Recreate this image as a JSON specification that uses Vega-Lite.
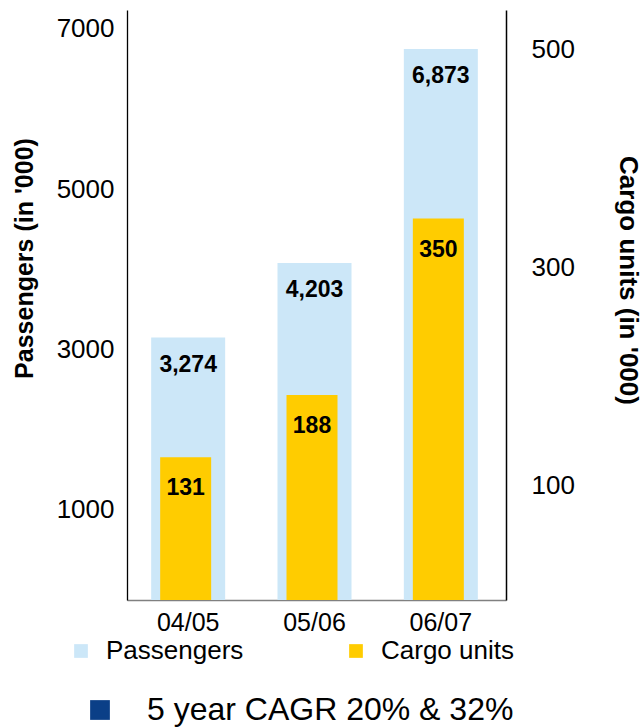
{
  "$schema": "https://vega.github.io/schema/vega-lite/v6.json",
  "width": 379,
  "height": 590,
  "autosize": "none",
  "padding": {"left": 127, "top": 10, "right": 137, "bottom": 127},
  "background": "white",
  "config": {
    "view": {"stroke": null},
    "font": "Liberation Sans",
    "axis": {"grid": false, "ticks": false, "tickSize": 0, "labelColor": "#000", "titleColor": "#000", "labelFont": "Liberation Sans", "titleFont": "Liberation Sans"},
    "legend": {"labelFont": "Liberation Sans", "labelColor": "#000"}
  },
  "datasets": {
    "traffic": [
      {"year": "04/05", "passengers": 3274, "cargo": 131},
      {"year": "05/06", "passengers": 4203, "cargo": 188},
      {"year": "06/07", "passengers": 6873, "cargo": 350}
    ],
    "notes": [
      {"note": "5 year CAGR 20% & 32%"}
    ]
  },
  "layer": [
    {
      "data": {"name": "traffic"},
      "encoding": {
        "x": {
          "field": "year", "type": "nominal", "sort": null,
          "scale": {"paddingInner": 0, "paddingOuter": 0},
          "axis": {"title": null, "labelAngle": 0, "labelFontSize": 25, "labelPadding": 10, "labelOffset": -2, "domainColor": "#808080", "domainWidth": 1.7}
        },
        "y": {
          "field": "passengers", "type": "quantitative",
          "scale": {"domain": [0, 7361], "nice": false, "zero": true},
          "axis": {
            "title": "Passengers (in '000)", "values": [1000, 3000, 5000, 7000], "format": "d",
            "labelFontSize": 26, "labelPadding": 13, "labelOffset": -10,
            "domainColor": "#000", "domainWidth": 1.3,
            "titleFontSize": 25, "titleFontWeight": "bold", "titleAngle": -90,
            "titleX": -95, "titleY": 248, "titleAlign": "center", "titleBaseline": "alphabetic"
          }
        }
      },
      "layer": [
        {
          "mark": {"type": "bar", "size": 74, "xOffset": -2},
          "encoding": {
            "color": {
              "datum": "Passengers",
              "scale": {"domain": ["Passengers", "Cargo units"], "range": ["#CCE7F8", "#FFCC00"]},
              "legend": {
                "title": null, "orient": "none", "legendX": -59, "legendY": 628,
                "direction": "horizontal", "symbolType": "square", "symbolSize": 188,
                "symbolStrokeWidth": 0, "symbolOpacity": 1, "labelFontSize": 26,
                "labelOffset": 12, "columnPadding": 99, "padding": 0, "labelLimit": 400
              }
            }
          }
        },
        {
          "mark": {"type": "text", "fontSize": 23, "fontWeight": "bold", "baseline": "middle", "dy": 27, "xOffset": -2, "color": "#000"},
          "encoding": {"text": {"field": "passengers", "type": "quantitative", "format": ","}}
        }
      ]
    },
    {
      "data": {"name": "traffic"},
      "encoding": {
        "x": {"field": "year", "type": "nominal", "sort": null},
        "y": {
          "field": "cargo", "type": "quantitative",
          "scale": {"domain": [0, 541.3], "nice": false, "zero": true},
          "axis": {
            "orient": "right", "title": "Cargo units (in '000)", "values": [100, 300, 500], "format": "d",
            "labelFontSize": 26, "labelPadding": 25, "labelOffset": -6,
            "domainColor": "#000", "domainWidth": 1.5,
            "titleFontSize": 26, "titleFontWeight": "bold", "titleAngle": 90,
            "titleX": 113, "titleY": 270, "titleAlign": "center", "titleBaseline": "alphabetic"
          }
        }
      },
      "layer": [
        {
          "mark": {"type": "bar", "size": 51, "xOffset": -4.5},
          "encoding": {"color": {"datum": "Cargo units"}}
        },
        {
          "mark": {"type": "text", "fontSize": 23, "fontWeight": "bold", "baseline": "middle", "dy": 31, "xOffset": -4.5, "color": "#000"},
          "encoding": {"text": {"field": "cargo", "type": "quantitative", "format": "d"}}
        }
      ]
    },
    {
      "data": {"name": "notes"},
      "mark": {"type": "point", "shape": "square", "filled": true, "opacity": 0},
      "encoding": {
        "fill": {
          "field": "note", "type": "nominal",
          "scale": {"range": ["#0B3F87"]},
          "legend": {
            "title": null, "orient": "none", "legendX": -43, "legendY": 684,
            "symbolType": "square", "symbolSize": 390, "symbolStrokeWidth": 0, "symbolOpacity": 1,
            "labelFontSize": 32, "labelOffset": 31, "padding": 0, "labelLimit": 600
          }
        }
      }
    }
  ],
  "resolve": {"scale": {"y": "independent"}}
}
